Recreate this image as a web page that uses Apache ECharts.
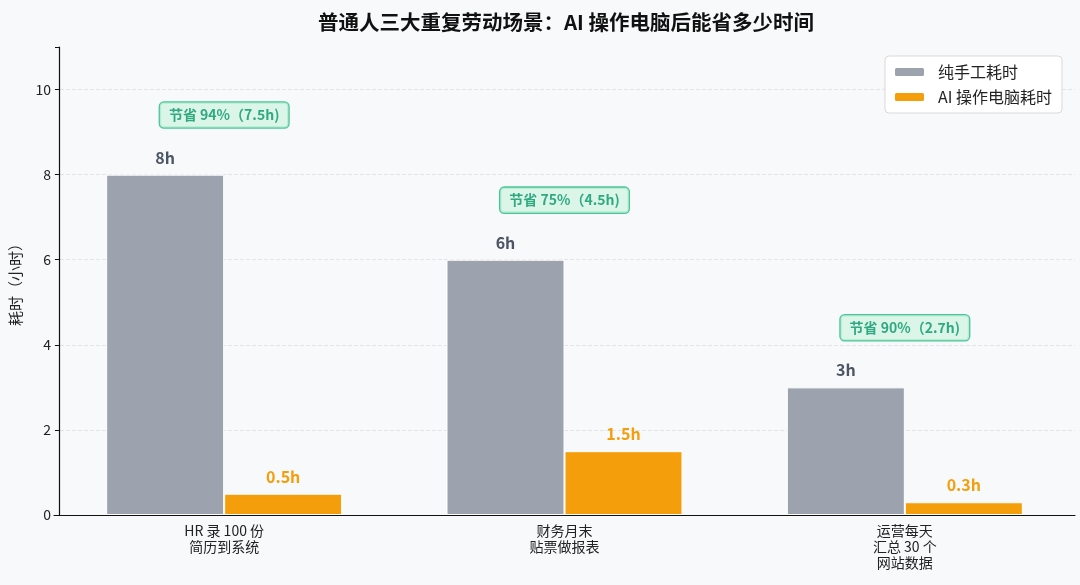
<!DOCTYPE html>
<html>
<head>
<meta charset="utf-8">
<script src="https://cdn.jsdelivr.net/npm/echarts@6/dist/echarts.min.js"></script>
<style>
  html, body { margin: 0; padding: 0; background: #f8f9fb; }
  #main { width: 1080px; height: 585px; }
</style>
</head>
<body>
<div id="main"></div>
<script>
var categories = ["HR 录 100 份\n简历到系统", "财务月末\n贴票做报表", "运营每天\n汇总 30 个\n网站数据"];
var manualHours = [8, 6, 3];
var aiHours = [0.5, 1.5, 0.3];
var savingTexts = ["节省 94%（7.5h)", "节省 75%（4.5h)", "节省 90%（2.7h)"];
var savingLabelY = [9.4, 7.4, 4.4];
var yTicks = [0, 2, 4, 6, 8, 10];

window.onload = function () {
  var chartDom = document.getElementById("main");
  var myChart = echarts.init(chartDom);
  var font = "'Noto Sans CJK SC', 'Noto Sans', sans-serif";

  var savingData = savingLabelY.map(function (v, i) {
    return { value: [i, v], label: { formatter: savingTexts[i] } };
  });

  var option = {
    backgroundColor: "#f8f9fb",
    textStyle: { fontFamily: font },
    title: {
      text: "普通人三大重复劳动场景：AI 操作电脑后能省多少时间",
      left: 561,
      textAlign: "center",
      top: 7,
      textStyle: { fontSize: 20.5, fontWeight: "bold", color: "#111", fontFamily: font },
    },
    legend: {
      data: ["纯手工耗时", "AI 操作电脑耗时"],
      orient: "vertical",
      right: 18,
      top: 56,
      itemWidth: 31,
      itemHeight: 10,
      itemGap: 9,
      padding: [8, 10, 8, 8],
      backgroundColor: "#ffffff",
      borderColor: "#d9d9d9",
      borderWidth: 1,
      borderRadius: 4,
      textStyle: { fontSize: 16, color: "#222", fontFamily: font, padding: [0, 0, 0, 8] },
    },
    grid: { left: 54, right: 5, top: 47, bottom: 70 },
    xAxis: {
      type: "category",
      data: categories,
      axisLine: { lineStyle: { color: "#111", width: 1.2 } },
      axisTick: { alignWithLabel: true, length: 4, lineStyle: { color: "#111" } },
      axisLabel: { fontSize: 14, color: "#222", lineHeight: 16, margin: 8 },
    },
    yAxis: {
      type: "value",
      min: 0,
      max: 11,
      interval: 2,
      offset: -5,
      name: "耗时（小时）",
      nameLocation: "middle",
      nameGap: 36,
      nameTextStyle: { fontSize: 15, color: "#222" },
      axisLine: { show: true, lineStyle: { color: "#111", width: 1.2 } },
      axisTick: { show: true, length: 4, lineStyle: { color: "#111" } },
      axisLabel: {
        fontSize: 14,
        color: "#222",
        formatter: function (v) { return yTicks.indexOf(v) >= 0 ? String(v) : ""; },
      },
      splitLine: { show: true, showMaxLine: false, lineStyle: { color: "#e3e5e9", type: "dashed" } },
    },
    series: [
      {
        name: "纯手工耗时",
        type: "bar",
        data: manualHours,
        barWidth: 118,
        barGap: "0%",
        itemStyle: { color: "#9ca3af", borderColor: "#ffffff", borderWidth: 1 },
        label: {
          show: true,
          position: "top",
          distance: 9,
          formatter: "{c}h",
          fontSize: 16,
          fontWeight: "bold",
          color: "#4b5563",
        },
      },
      {
        name: "AI 操作电脑耗时",
        type: "bar",
        data: aiHours,
        barWidth: 118,
        itemStyle: { color: "#f59e0b", borderColor: "#ffffff", borderWidth: 1 },
        label: {
          show: true,
          position: "top",
          distance: 9,
          formatter: "{c}h",
          fontSize: 16,
          fontWeight: "bold",
          color: "#f59e0b",
        },
      },
      {
        name: "节省",
        type: "scatter",
        data: savingData,
        symbolSize: 0,
        silent: true,
        label: {
          show: true,
          position: "inside",
          fontSize: 14,
          fontWeight: "bold",
          color: "#059669",
          backgroundColor: "#d3f5e4",
          borderColor: "#1fb97f",
          borderWidth: 1.3,
          borderRadius: 4,
          padding: [6, 9, 5, 9],
        },
      },
    ],
  };

  option && myChart.setOption(option);
};
</script>
</body>
</html>
